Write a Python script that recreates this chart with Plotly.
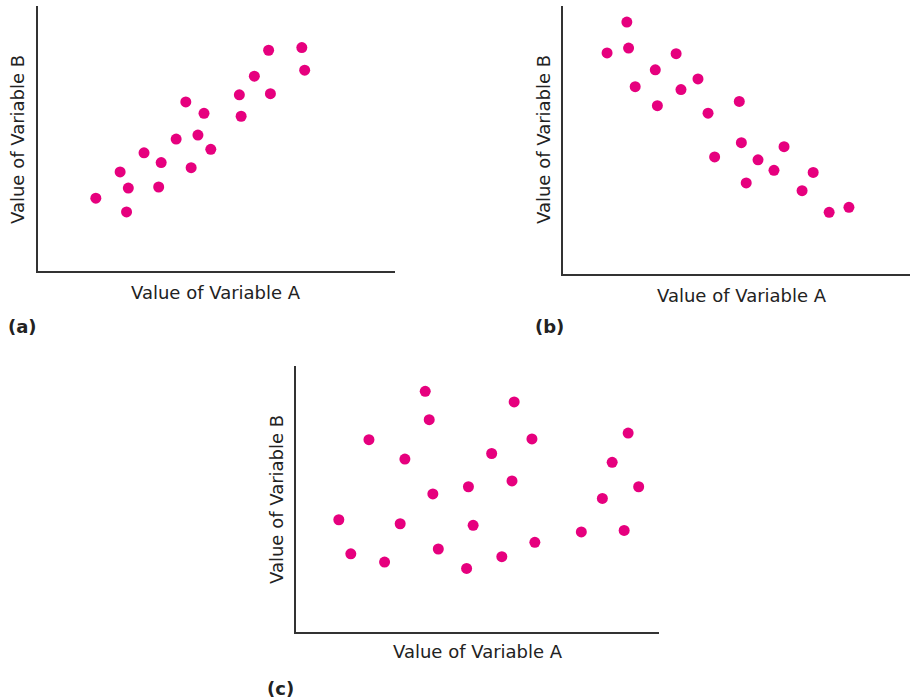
import plotly.graph_objects as go

# Panel (a): positive correlation
a_x = [1.62, 2.48, 2.30, 2.53, 2.97, 3.38, 3.45, 3.87, 4.14, 4.29, 4.48, 4.65, 4.84, 5.64, 5.69, 6.06, 6.46, 6.51, 7.39, 7.47]
a_y = [2.75, 2.23, 3.74, 3.13, 4.46, 3.17, 4.09, 4.98, 6.38, 3.90, 5.13, 5.95, 4.59, 6.65, 5.84, 7.35, 8.33, 6.69, 8.43, 7.58]

# Panel (b): negative correlation
b_x = [1.84, 1.27, 1.89, 3.26, 2.66, 2.08, 3.89, 3.40, 2.72, 5.08, 4.18, 5.14, 6.37, 4.37, 5.62, 6.08, 7.21, 5.28, 6.89, 7.67, 8.24]
b_y = [9.40, 8.25, 8.43, 8.22, 7.62, 6.99, 7.28, 6.88, 6.28, 6.44, 6.00, 4.90, 4.75, 4.37, 4.26, 3.87, 3.79, 3.40, 3.11, 2.30, 2.49]

# Panel (c): no correlation
c_x = [3.56, 6.01, 3.67, 2.01, 6.50, 9.15, 3.00, 5.39, 8.71, 4.75, 5.95, 3.77, 9.44, 8.44, 1.18, 2.87, 4.88, 7.86, 9.04, 6.58, 1.51, 3.92, 5.67, 2.44, 4.70]
c_y = [9.05, 8.65, 7.98, 7.23, 7.26, 7.48, 6.50, 6.71, 6.38, 5.46, 5.68, 5.19, 5.46, 5.02, 4.22, 4.07, 4.01, 3.76, 3.82, 3.37, 2.94, 3.12, 2.83, 2.63, 2.39]

x_title = "Value of Variable A"
y_title = "Value of Variable B"
panel_labels = ["(a)", "(b)", "(c)"]

W, H = 911, 700
PINK = "#E6007E"
FONT = "DejaVu Sans"

def px(x):
    return x / W

def py(y):
    return 1 - y / H

fig = go.Figure()
panels = [
    (a_x, a_y, "x", "y", (38, 395), (6, 271)),
    (b_x, b_y, "x2", "y2", (563, 910), (6, 274)),
    (c_x, c_y, "x3", "y3", (296, 659), (366, 632)),
]

for xs, ys, xa, ya, (l, r), (t, b) in panels:
    fig.add_trace(go.Scatter(x=xs, y=ys, mode="markers", xaxis=xa, yaxis=ya,
                             marker=dict(size=11, color=PINK, line=dict(width=0)),
                             showlegend=False, hoverinfo="skip"))

axis_common = dict(range=[0, 10], showgrid=False, zeroline=False, showticklabels=False,
                   ticks="", showline=True, linecolor="#333333", linewidth=2, fixedrange=True)

layout = dict(width=W, height=H, margin=dict(l=0, r=0, t=0, b=0),
              paper_bgcolor="white", plot_bgcolor="white", showlegend=False)
for i, (xs, ys, xa, ya, (l, r), (t, b)) in enumerate(panels):
    sx = "" if i == 0 else str(i + 1)
    layout["xaxis" + sx] = dict(axis_common, domain=[px(l), px(r)], anchor="y" + sx)
    layout["yaxis" + sx] = dict(axis_common, domain=[py(b), py(t)], anchor="x" + sx)
fig.update_layout(**layout)

ann = []
xt_pos = [(216, 292), (742, 295), (478, 651)]
yt_pos = [(18, 140), (544, 140), (276, 500)]
lab_pos = [(22, 327), (549, 326), (280, 688)]
for i in range(3):
    ann.append(dict(text=x_title, x=px(xt_pos[i][0]), y=py(xt_pos[i][1]), xref="paper", yref="paper",
                    xanchor="center", yanchor="middle", showarrow=False,
                    font=dict(family=FONT, size=18, color="#222222")))
    ann.append(dict(text=y_title, x=px(yt_pos[i][0]), y=py(yt_pos[i][1]), xref="paper", yref="paper",
                    xanchor="center", yanchor="middle", showarrow=False, textangle=-90,
                    font=dict(family=FONT, size=18, color="#222222")))
    ann.append(dict(text="<b>" + panel_labels[i] + "</b>", x=px(lab_pos[i][0]), y=py(lab_pos[i][1]),
                    xref="paper", yref="paper", xanchor="center", yanchor="middle", showarrow=False,
                    font=dict(family=FONT, size=18, color="#222222")))
fig.update_layout(annotations=ann)

fig.write_html("out.html", config={"displayModeBar": False, "staticPlot": True},
               post_script="document.body.style.margin='0';document.body.style.overflow='hidden';")
